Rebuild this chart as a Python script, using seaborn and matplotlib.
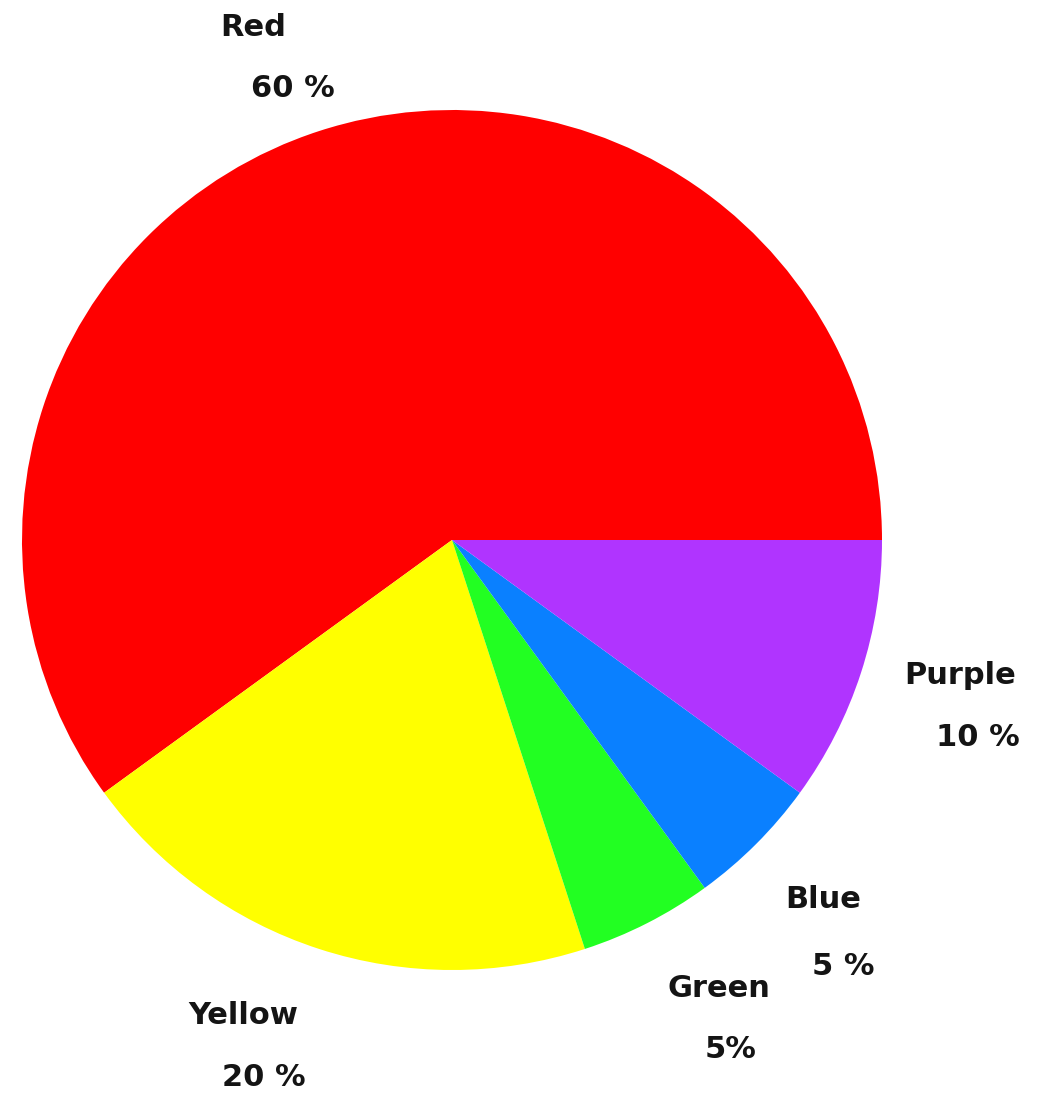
import matplotlib
matplotlib.use("Agg")
import matplotlib.pyplot as plt
import seaborn as sns

categories = ["Red", "Yellow", "Green", "Blue", "Purple"]
values = [60, 20, 5, 5, 10]
pct_labels = ["60 %", "20 %", "5%", "5 %", "10 %"]
colors = ["#FF0000", "#FFFF00", "#22FF22", "#0A80FF", "#B034FF"]

# label positions (in pie-radius units), name line and percent line
name_pos = [(-0.463, 1.191), (-0.486, -1.105), (0.621, -1.042), (0.863, -0.837), (1.181, -0.316)]
pct_pos = [(-0.370, 1.051), (-0.437, -1.251), (0.647, -1.186), (0.909, -0.991), (1.223, -0.460)]

sns.set_theme(style="white")
plt.rcParams["font.family"] = ["DejaVu Sans"]

W, H = 1050, 1093
cx, cy, R = 452, 540, 430
fig = plt.figure(figsize=(W / 100, H / 100), dpi=100)
ax = fig.add_axes([0, 0, 1, 1])
ax.pie(values, colors=colors, startangle=0, counterclock=True,
       wedgeprops=dict(linewidth=0), radius=1.0)
ax.set_xlim(-cx / R, (W - cx) / R)
ax.set_ylim((cy - H) / R, cy / R)
ax.set_aspect("equal")
ax.axis("off")

for name, pct, (nx, ny), (px, py) in zip(categories, pct_labels, name_pos, pct_pos):
    ax.text(nx, ny, name, ha="center", va="center", fontsize=22,
            fontweight="bold", color="#141414")
    ax.text(px, py, pct, ha="center", va="center", fontsize=22,
            fontweight="bold", color="#141414")

fig.savefig("out.png", dpi=100, facecolor="white")
